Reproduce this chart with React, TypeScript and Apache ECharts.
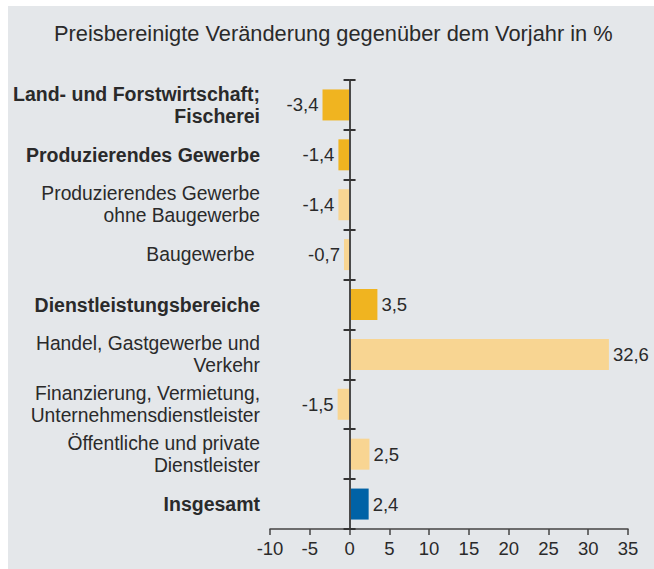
import React, { useEffect, useRef } from "react";
import * as echarts from "echarts";

const title = "Preisbereinigte Veränderung gegenüber dem Vorjahr in %";
const categories = [
  "Land- und Forstwirtschaft;\nFischerei",
  "Produzierendes Gewerbe",
  "Produzierendes Gewerbe\nohne Baugewerbe",
  "Baugewerbe ",
  "Dienstleistungsbereiche",
  "Handel, Gastgewerbe und\nVerkehr",
  "Finanzierung, Vermietung,\nUnternehmensdienstleister",
  "Öffentliche und private\nDienstleister",
  "Insgesamt",
];
const values = [-3.4, -1.4, -1.4, -0.7, 3.5, 32.6, -1.5, 2.5, 2.4];
const levels = ["main", "main", "sub", "sub", "main", "sub", "sub", "sub", "total"];
const xTicks = { min: -10, max: 35, interval: 5 };

const COLORS: Record<string, string> = {
  main: "#F0B420",
  sub: "#F8D592",
  total: "#0062A6",
};
const FONT = "'Liberation Sans', Arial, Helvetica, sans-serif";
const TEXT = "#2a2a2a";

export default function App() {
  const ref = useRef<HTMLDivElement>(null);
  useEffect(() => {
    if (!ref.current) return;
    const chart = echarts.init(ref.current, undefined, { renderer: "svg" });
    const boldSet = new Set(categories.filter((_, i) => levels[i] !== "sub"));
    chart.setOption({
      animation: false,
      textStyle: { fontFamily: FONT },
      title: {
        text: title,
        left: 54,
        top: 22,
        padding: 0,
        textStyle: { fontFamily: FONT, fontSize: 21.8, fontWeight: "normal", color: TEXT },
      },
      grid: { left: 270, right: 26, top: 80, bottom: 40, containLabel: false },
      xAxis: {
        type: "value",
        min: xTicks.min,
        max: xTicks.max,
        interval: xTicks.interval,
        axisLine: { show: true, onZero: false, lineStyle: { color: "#444", width: 1.5 } },
        axisTick: { show: true, length: 6, lineStyle: { color: "#444", width: 1.5 } },
        splitLine: { show: false },
        axisLabel: { fontFamily: FONT, fontSize: 18.5, color: TEXT, margin: 10 },
      },
      yAxis: [
        {
          type: "category",
          inverse: true,
          position: "left",
          data: categories,
          axisLine: { show: false, onZero: false },
          axisTick: { show: false },
          axisLabel: {
            margin: 10,
            formatter: (v: string) => {
              const tag = boldSet.has(v) ? "b" : "r";
              return v
                .split("\n")
                .map((l) => `{${tag}|${l}}`)
                .join("\n");
            },
            rich: {
              b: { fontFamily: FONT, fontSize: 19.5, fontWeight: "bold", color: TEXT, lineHeight: 22 },
              r: { fontFamily: FONT, fontSize: 19.3, color: TEXT, lineHeight: 22 },
            },
          },
        },
        {
          type: "category",
          inverse: true,
          position: "left",
          data: categories,
          z: 10,
          axisLine: { show: true, onZero: true, onZeroAxisIndex: 0, lineStyle: { color: "#4a4a4a", width: 2 } },
          axisTick: { show: true, inside: false, length: 6, lineStyle: { color: "#333", width: 2 } },
          axisLabel: { show: false },
        },
        {
          type: "category",
          inverse: true,
          position: "left",
          data: categories,
          z: 10,
          axisLine: { show: false, onZero: true, onZeroAxisIndex: 0 },
          axisTick: { show: true, inside: true, length: 6, lineStyle: { color: "#333", width: 2 } },
          axisLabel: { show: false },
        },
      ],
      series: [
        {
          type: "bar",
          yAxisIndex: 0,
          barWidth: 31,
          data: values.map((v, i) => ({
            value: v,
            itemStyle: { color: COLORS[levels[i]] },
            label: {
              show: true,
              position: v < 0 ? "left" : "right",
              distance: 4,
              fontFamily: FONT,
              fontSize: 18.5,
              color: TEXT,
              formatter: () => String(v).replace(".", ","),
            },
          })),
        },
      ],
    });
    return () => chart.dispose();
  }, []);

  return (
    <div style={{ position: "absolute", left: 0, top: 0, width: 654, height: 569, background: "#fff", overflow: "hidden" }}>
      <div style={{ position: "absolute", left: 8, top: 6, width: 646, height: 563, background: "#E4E7EA" }} />
      <div ref={ref} style={{ position: "absolute", left: 0, top: 0, width: 654, height: 569 }} />
    </div>
  );
}
